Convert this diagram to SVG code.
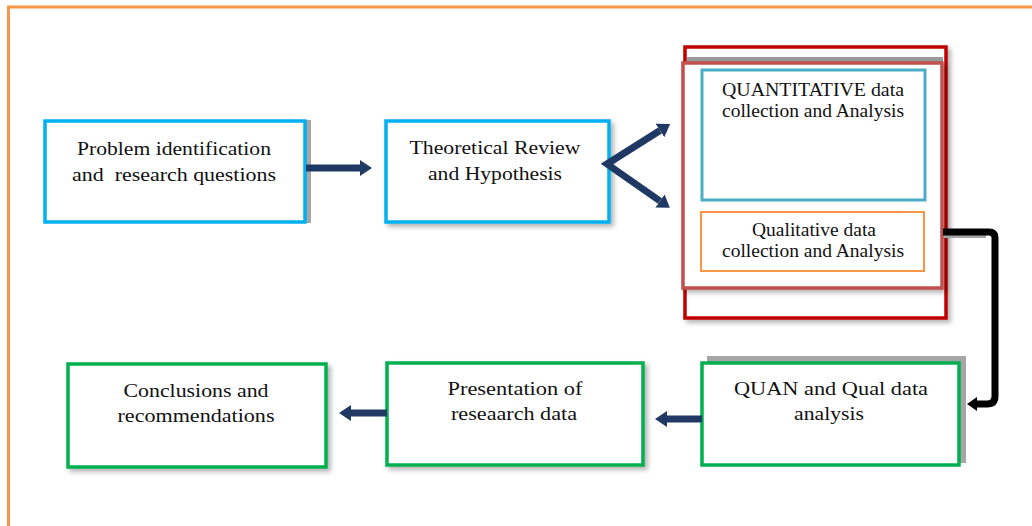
<svg xmlns="http://www.w3.org/2000/svg" width="1032" height="526" viewBox="0 0 1032 526">
<defs>
<filter id="sh" x="-10%" y="-10%" width="125%" height="130%">
<feDropShadow dx="3" dy="3" stdDeviation="2.5" flood-color="#000" flood-opacity="0.3"/>
</filter>
<marker id="nav" markerUnits="userSpaceOnUse" viewBox="0 -8 12 16" refX="0" refY="0" markerWidth="12" markerHeight="16" orient="auto-start-reverse">
<path d="M0,-8 L12,0 L0,8 Z" fill="#1F3864"/>
</marker>
<style>
.t{font-family:"Liberation Serif","Times New Roman",serif;font-size:18.5px;fill:#111;text-anchor:middle}
.bb{fill:#fff;stroke:#00B0F0;stroke-width:3.5}
.gb{fill:#fff;stroke:#00B050;stroke-width:3.5}
.nv{fill:none;stroke:#1F3864;stroke-width:7}
</style>
</defs>
<rect width="1032" height="526" fill="#fff"/>
<path d="M8.5,526 V7 H1032" fill="none" stroke="#F79646" stroke-width="3"/>

<g id="n1">
<rect x="305" y="120" width="6" height="103" fill="#A6A6A6"/>
<rect class="bb" x="45" y="121" width="260" height="101"/>
<text class="t" x="174" y="155" textLength="194" lengthAdjust="spacingAndGlyphs">Problem identification</text>
<text class="t" x="174" y="181" textLength="204" lengthAdjust="spacingAndGlyphs" xml:space="preserve">and  research questions</text>
</g>

<g id="n2">
<rect class="bb" x="386" y="121" width="223" height="101" filter="url(#sh)"/>
<text class="t" x="495" y="154" textLength="171" lengthAdjust="spacingAndGlyphs">Theoretical Review</text>
<text class="t" x="495" y="180" textLength="134" lengthAdjust="spacingAndGlyphs">and Hypothesis</text>
</g>

<g id="n3">
<rect x="685" y="47" width="261" height="271" fill="#fff" stroke="#C00000" stroke-width="3.5" filter="url(#sh)"/>
<rect x="687" y="57" width="256" height="6" fill="#9a9a9a"/>
<rect x="683" y="63" width="259" height="225" fill="#fff" stroke="#C0504D" stroke-width="3.5" filter="url(#sh)"/>
</g>

<g id="n4">
<rect x="702" y="70" width="223" height="130" fill="#fff" stroke="#4BACC6" stroke-width="3"/>
<text class="t" x="813" y="96" textLength="182" lengthAdjust="spacingAndGlyphs">QUANTITATIVE data</text>
<text class="t" x="813" y="117" textLength="182" lengthAdjust="spacingAndGlyphs">collection and Analysis</text>
</g>

<g id="n5">
<rect x="701" y="212" width="223" height="59" fill="#fff" stroke="#F79646" stroke-width="2"/>
<text class="t" x="814" y="236" textLength="124" lengthAdjust="spacingAndGlyphs">Qualitative data</text>
<text class="t" x="813" y="257" textLength="182" lengthAdjust="spacingAndGlyphs">collection and Analysis</text>
</g>

<g id="n6">
<rect x="707" y="356" width="259" height="107" fill="#A6A6A6"/>
<rect class="gb" x="702" y="363" width="257" height="102"/>
<text class="t" x="831" y="395" textLength="194" lengthAdjust="spacingAndGlyphs">QUAN and Qual data</text>
<text class="t" x="829" y="420" textLength="70" lengthAdjust="spacingAndGlyphs">analysis</text>
</g>

<g id="n7">
<rect class="gb" x="387" y="363" width="256" height="102" filter="url(#sh)"/>
<text class="t" x="515" y="395" textLength="135" lengthAdjust="spacingAndGlyphs">Presentation of</text>
<text class="t" x="514" y="420" textLength="126" lengthAdjust="spacingAndGlyphs">reseaarch data</text>
</g>

<g id="n8">
<rect class="gb" x="68" y="364" width="258" height="103" filter="url(#sh)"/>
<text class="t" x="196" y="397" textLength="145" lengthAdjust="spacingAndGlyphs">Conclusions and</text>
<text class="t" x="196" y="422" textLength="157" lengthAdjust="spacingAndGlyphs">recommendations</text>
</g>

<g id="connectors">
<path class="nv" d="M306,168 H360" marker-end="url(#nav)"/>
<path class="nv" d="M660,130.5 L607,164 L660,201" stroke-linejoin="miter" marker-start="url(#nav)" marker-end="url(#nav)"/>
<path class="nv" d="M387,413 H351" marker-end="url(#nav)"/>
<path class="nv" d="M702,419 H667" marker-end="url(#nav)"/>
<path d="M944,236 H986" stroke="#A6A6A6" stroke-width="4" fill="none"/>
<path d="M943,232 H989 Q995,232 995,238 V396 Q995,404 987,404 H977" fill="none" stroke="#000" stroke-width="7"/>
<path d="M977,397 L967,404 L977,411 Z" fill="#000"/>
</g>
</svg>
